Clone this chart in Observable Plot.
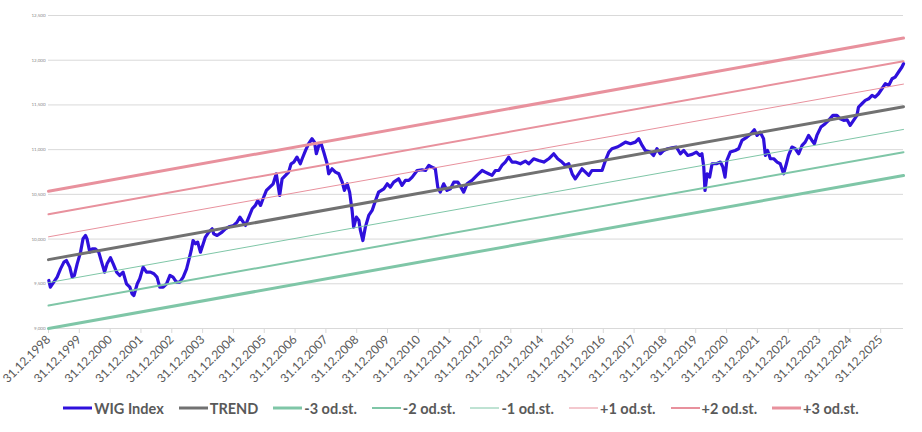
<!DOCTYPE html>
<html>
<head>
<meta charset="utf-8">
<script src="https://cdn.jsdelivr.net/npm/d3@7"></script>
<script src="https://cdn.jsdelivr.net/npm/@observablehq/plot@0.6"></script>
<style>
  body { margin: 0; background: #fff; font-family: Lato, "Open Sans", sans-serif; }
  #chart { width: 922px; height: 432px; position: relative; }
  #legend { display: flex; justify-content: center; align-items: center; gap: 15px; height: 24px; margin-top: 4px; font-weight: bold; font-size: 14.5px; color: #595959; }
  #legend .item { display: flex; align-items: center; gap: 2px; }
</style>
</head>
<body>
<div id="chart"></div>
<script>
// Decimal-year positions (1999.0 = 31.12.1998) and index values
const wigIndex = [
  [1999.01,9537],[1999.06,9462],[1999.17,9518],[1999.28,9574],[1999.39,9667],[1999.50,9742],[1999.58,9761],[1999.69,9686],[1999.77,9574],[1999.84,9593],
  [1999.93,9723],[2000.04,9854],[2000.12,10003],[2000.20,10040],[2000.25,10003],[2000.34,9854],[2000.42,9891],[2000.52,9891],[2000.63,9854],[2000.74,9723],
  [2000.82,9630],[2000.90,9723],[2001.01,9791],[2001.10,9723],[2001.21,9630],[2001.31,9593],[2001.42,9630],[2001.53,9500],[2001.64,9462],[2001.71,9388],
  [2001.77,9369],[2001.88,9500],[2001.96,9556],[2002.07,9686],[2002.18,9630],[2002.31,9630],[2002.42,9612],[2002.52,9574],[2002.61,9462],[2002.72,9462],
  [2002.83,9500],[2002.94,9593],[2003.04,9574],[2003.15,9518],[2003.26,9518],[2003.37,9574],[2003.48,9667],[2003.55,9761],[2003.63,9873],[2003.69,9984],
  [2003.77,9947],[2003.84,9966],[2003.93,9854],[2004.02,9947],[2004.09,10022],[2004.20,10078],[2004.31,10115],[2004.36,10059],[2004.47,10040],[2004.63,10078],
  [2004.74,10115],[2004.88,10141],[2005.01,10152],[2005.12,10190],[2005.21,10245],[2005.28,10208],[2005.39,10152],[2005.50,10245],[2005.61,10339],[2005.71,10376],
  [2005.79,10432],[2005.88,10376],[2005.96,10451],[2006.07,10544],[2006.18,10581],[2006.29,10618],[2006.39,10730],[2006.44,10618],[2006.50,10488],[2006.58,10674],
  [2006.69,10712],[2006.79,10749],[2006.87,10842],[2006.96,10861],[2007.06,10917],[2007.17,10842],[2007.23,10898],[2007.34,10991],[2007.44,11066],[2007.55,11122],
  [2007.63,11084],[2007.69,10954],[2007.77,11047],[2007.84,11073],
  [2007.93,10973],[2008.04,10842],[2008.09,10730],[2008.20,10786],[2008.31,10749],[2008.42,10730],[2008.53,10637],[2008.60,10544],[2008.69,10618],[2008.77,10525],
  [2008.85,10320],[2008.90,10134],[2008.99,10245],[2009.07,10208],[2009.12,10096],[2009.20,9984],[2009.28,10134],[2009.39,10264],[2009.50,10320],[2009.61,10432],
  [2009.71,10525],[2009.88,10562],[2009.99,10618],[2010.09,10581],[2010.20,10637],[2010.36,10674],[2010.47,10600],[2010.58,10656],[2010.69,10656],[2010.80,10693],
  [2010.96,10767],[2011.12,10775],[2011.23,10767],[2011.34,10823],[2011.44,10805],[2011.55,10786],[2011.63,10581],[2011.71,10525],[2011.82,10618],[2011.93,10544],
  [2012.04,10562],[2012.15,10637],[2012.28,10637],[2012.38,10581],[2012.47,10525],[2012.58,10618],[2012.74,10656],[2012.90,10712],[2013.07,10767],[2013.17,10749],
  [2013.28,10730],[2013.39,10712],[2013.50,10767],[2013.61,10767],[2013.71,10823],[2013.82,10861],[2013.93,10917],[2014.04,10861],[2014.15,10861],[2014.31,10842],
  [2014.47,10872],[2014.58,10842],[2014.74,10898],[2014.90,10879],[2015.07,10861],[2015.23,10898],[2015.39,10954],[2015.52,10898],[2015.66,10861],[2015.77,10823],
  [2015.88,10842],[2015.99,10730],[2016.09,10674],[2016.20,10730],[2016.31,10786],[2016.42,10749],[2016.53,10712],[2016.63,10767],[2016.80,10767],[2016.96,10767],
  [2017.07,10879],[2017.18,10973],[2017.28,11010],[2017.45,11029],
  [2017.55,11047],[2017.72,11084],[2017.88,11066],[2018.04,11084],[2018.15,11122],[2018.26,11047],[2018.36,10991],[2018.53,10973],[2018.63,10935],[2018.74,11010],
  [2018.85,10954],[2018.96,10991],[2019.09,11010],[2019.23,11021],[2019.37,11029],[2019.50,10954],[2019.61,10991],[2019.74,10935],[2019.88,10947],[2020.02,10973],
  [2020.13,10935],[2020.20,10954],[2020.26,10805],[2020.30,10544],[2020.37,10730],[2020.45,10693],[2020.53,10842],[2020.67,10842],[2020.80,10861],[2020.88,10805],
  [2020.95,10693],[2021.01,10879],[2021.12,10973],[2021.28,10991],[2021.39,11010],[2021.50,11103],[2021.66,11140],[2021.79,11178],[2021.90,11222],[2021.99,11159],
  [2022.09,11196],[2022.20,11122],[2022.26,10935],[2022.33,10991],[2022.42,10898],[2022.53,10898],[2022.64,10861],[2022.74,10842],[2022.85,10730],[2022.94,10842],
  [2023.01,10935],[2023.12,11029],[2023.23,11010],[2023.34,10954],[2023.45,11047],[2023.55,11084],[2023.66,11159],[2023.77,11103],[2023.85,11066],[2023.93,11159],
  [2024.06,11252],[2024.20,11290],[2024.31,11327],[2024.45,11383],[2024.58,11383],[2024.69,11345],[2024.80,11327],[2024.91,11334],[2025.01,11271],[2025.12,11327],
  [2025.23,11383],[2025.28,11476],[2025.39,11513],[2025.50,11551],[2025.61,11569],[2025.72,11607],[2025.82,11588],[2025.93,11625],[2026.04,11681],[2026.15,11737],
  [2026.26,11718],[2026.37,11793],[2026.47,11812],[2026.58,11868],[2026.69,11924],[2026.74,11961]
];

// Straight trend and deviation lines: value at the left and right edge
const lineNames  = ["TREND", "-3 od.st.", "-2 od.st.", "-1 od.st.", "+1 od.st.", "+2 od.st.", "+3 od.st."];
const lineStart  = [9770, 9000, 9257, 9513, 10025, 10278, 10535];
const lineEnd    = [11480, 10711, 10972, 11226, 11733, 11988, 12248];
const lineStartT = 1999.0;
const lineEndT   = 2026.74;

const xTicks = d3.range(1999, 2027);          // 31.12.1998 ... 31.12.2025
const yTicks = d3.range(9000, 12501, 500);

const styles = {
  "WIG Index": {stroke: "#2f10dc", width: 3},
  "TREND":     {stroke: "#717171", width: 3},
  "-3 od.st.": {stroke: "#7fc6a7", width: 3},
  "-2 od.st.": {stroke: "#7fc6a7", width: 2},
  "-1 od.st.": {stroke: "#7fc6a7", width: 1},
  "+1 od.st.": {stroke: "#e8919d", width: 1},
  "+2 od.st.": {stroke: "#e8919d", width: 2},
  "+3 od.st.": {stroke: "#e8919d", width: 3}
};

const wigRows = wigIndex.map(([t, v]) => ({t, v}));
const lineRows = lineNames.map((name, i) => [
  {name, t: lineStartT, v: lineStart[i]},
  {name, t: lineEndT, v: lineEnd[i]}
]);

const plot = Plot.plot({
  width: 922,
  height: 392,
  marginLeft: 48,
  marginRight: 19,
  marginTop: 15,
  marginBottom: 64,
  style: {fontFamily: "Lato, 'Open Sans', sans-serif", background: "#fff"},
  x: {type: "linear", domain: [lineStartT, lineEndT]},
  y: {type: "linear", domain: [9000, 12500]},
  marks: [
    Plot.gridY(yTicks, {stroke: "#d9d9d9", strokeOpacity: 1, strokeWidth: 1}),
    Plot.axisY(yTicks, {tickSize: 0, tickPadding: 3, fontSize: 4.5, fill: "#8a8a8a", tickFormat: d3.format(","), label: null}),
    Plot.ruleY([9000], {stroke: "#d9d9d9", strokeWidth: 1}),
    Plot.axisX(xTicks, {tickSize: 5, stroke: "#d9d9d9", tickPadding: 4, tickRotate: -45, fontSize: 12, fill: "#595959",
      tickFormat: d => "31.12." + (d - 1), label: null}),
    Plot.line(wigRows, {x: "t", y: "v", stroke: styles["WIG Index"].stroke, strokeWidth: 3.2, strokeLinejoin: "round"}),
    ...lineRows.map(rows => Plot.line(rows, {x: "t", y: "v",
      stroke: styles[rows[0].name].stroke, strokeWidth: styles[rows[0].name].width}))
  ]
});

const chart = document.getElementById("chart");
chart.appendChild(plot);

const legend = document.createElement("div");
legend.id = "legend";
["WIG Index", ...lineNames].forEach(name => {
  const s = styles[name];
  const item = document.createElement("div");
  item.className = "item";
  item.innerHTML = `<svg width="29" height="10"><line x1="0" x2="29" y1="5" y2="5" stroke="${s.stroke}" stroke-width="${s.width}"/></svg><span>${name}</span>`;
  legend.appendChild(item);
});
chart.appendChild(legend);
</script>
</body>
</html>
